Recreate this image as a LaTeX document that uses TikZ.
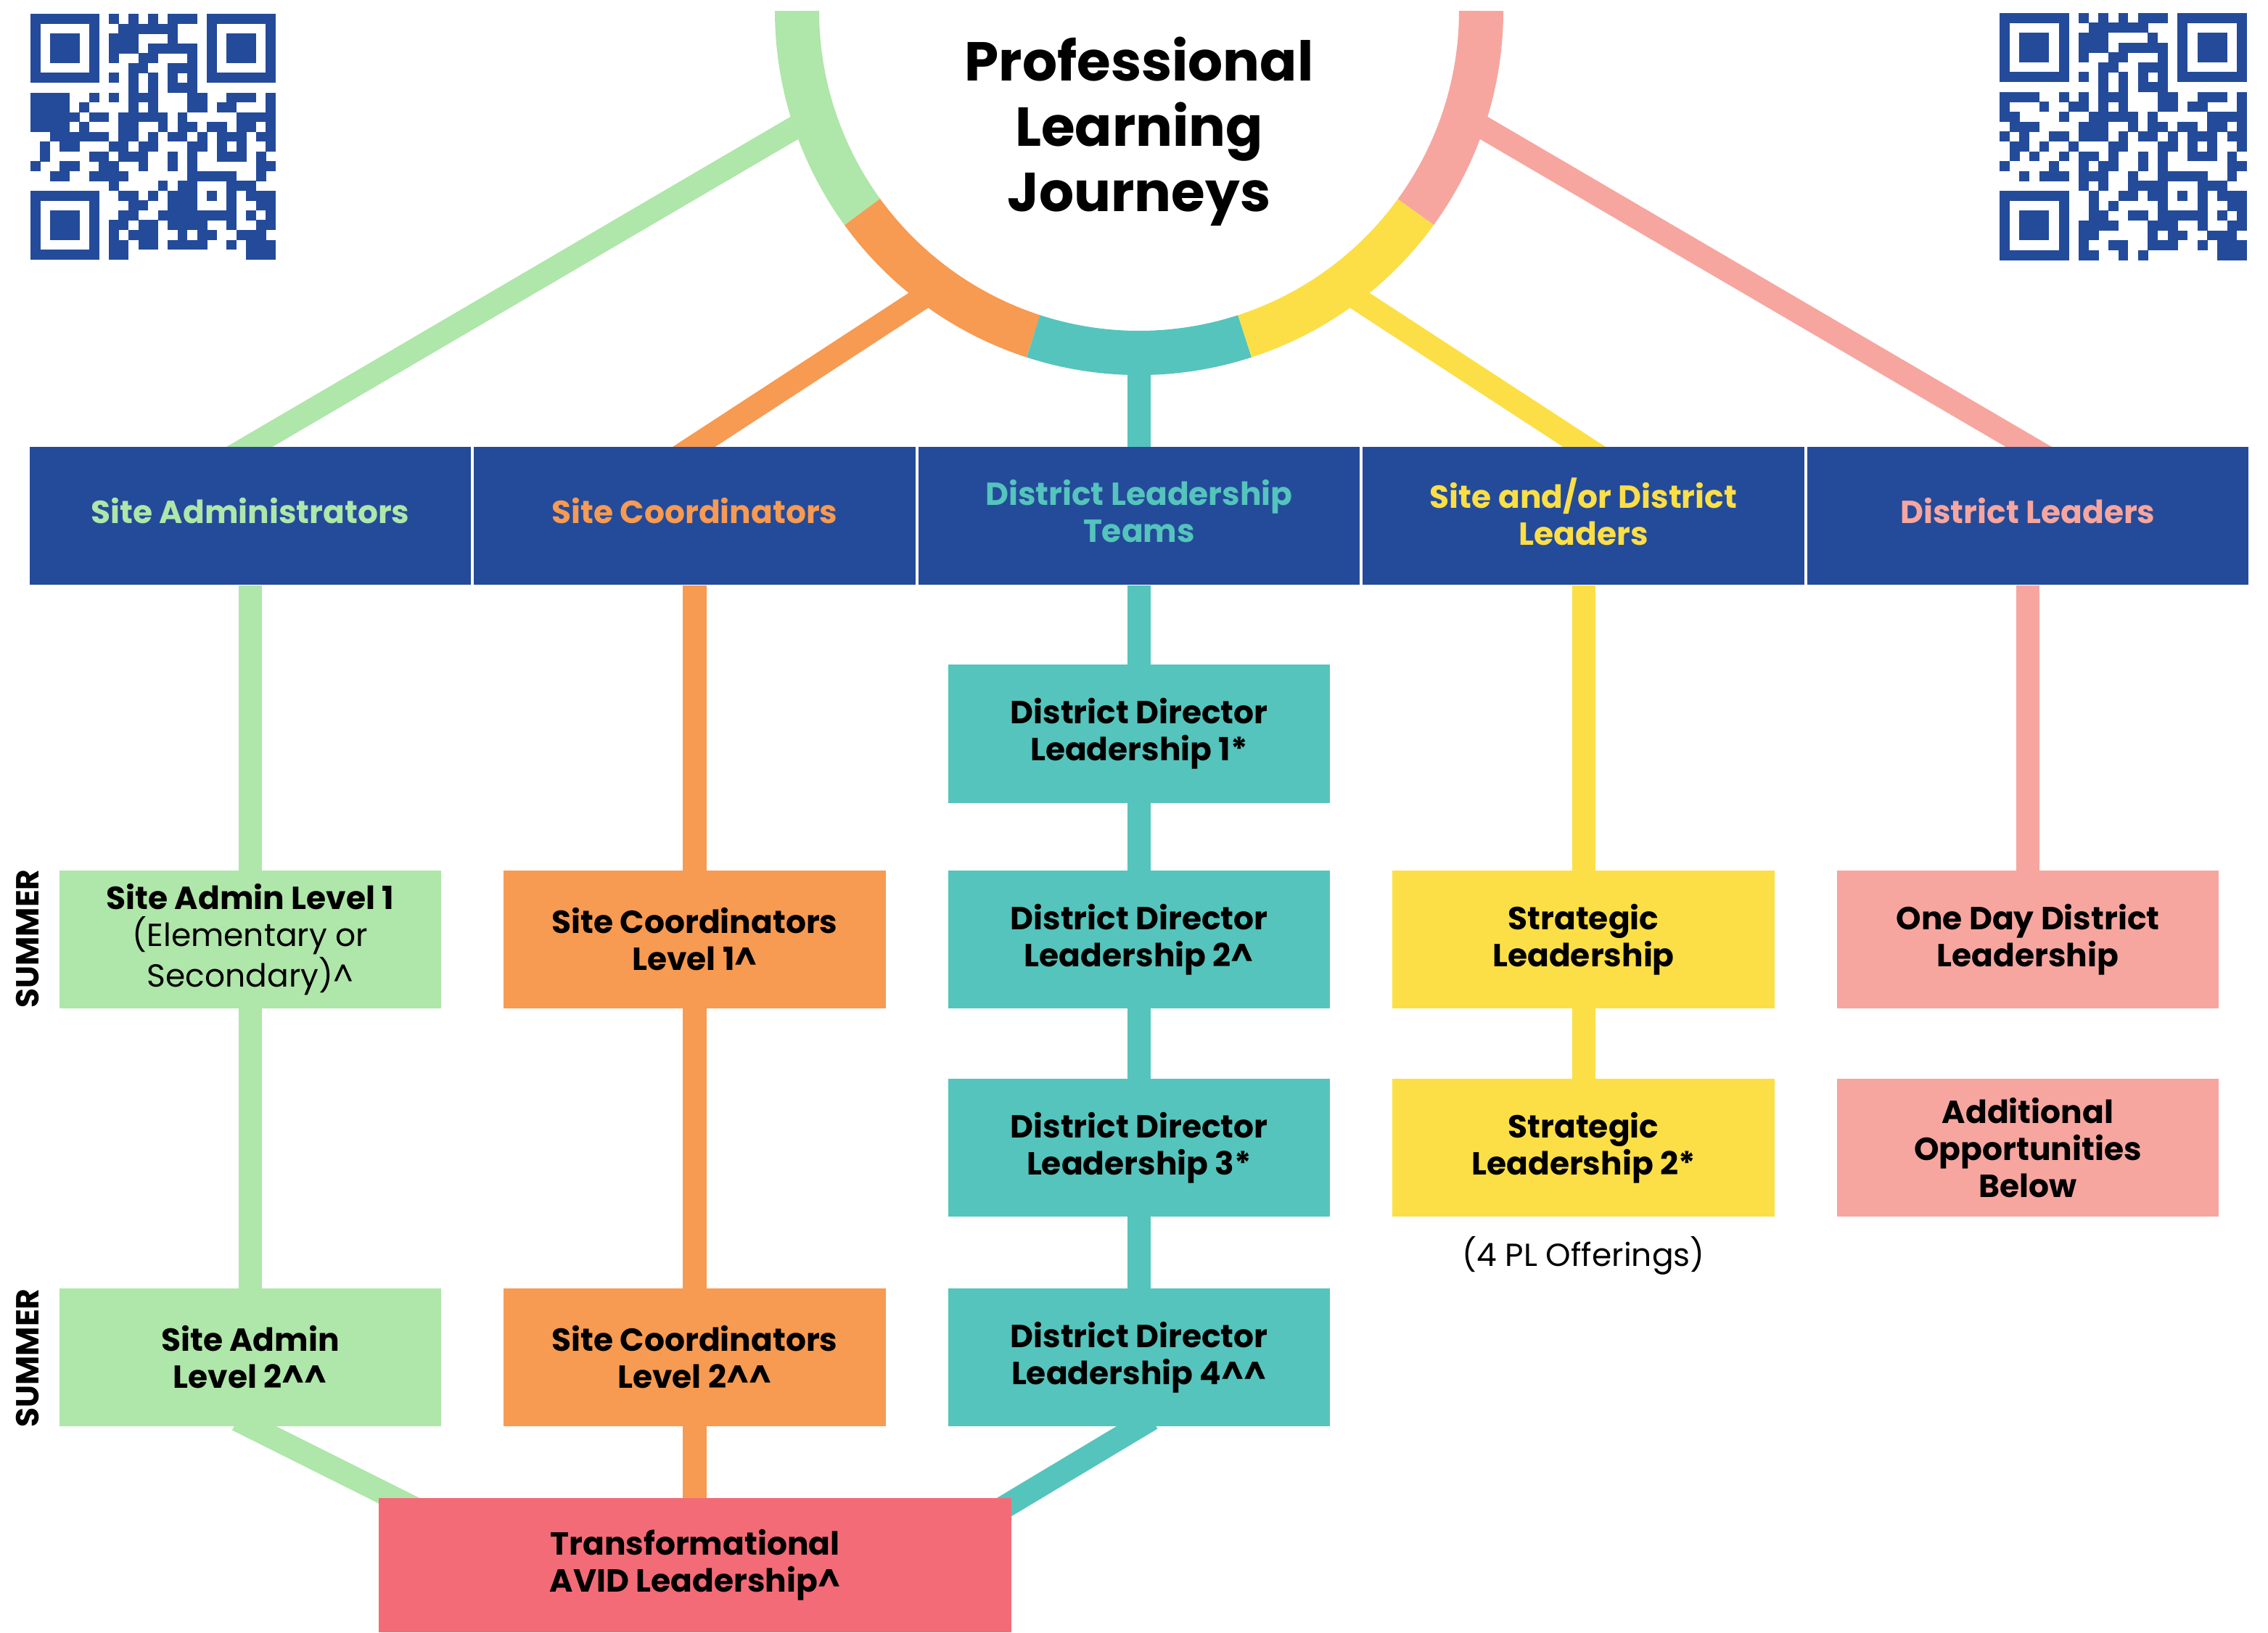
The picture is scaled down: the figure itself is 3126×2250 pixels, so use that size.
\documentclass[tikz,border=0pt]{standalone}
\usepackage{fontspec}
\setmainfont{Poppins}
\usetikzlibrary{calc}
\definecolor{navy}{HTML}{244B9A}
\definecolor{cgreen}{HTML}{AFE6A9}
\definecolor{corange}{HTML}{F79A52}
\definecolor{cteal}{HTML}{55C4BC}
\definecolor{cyellow}{HTML}{FCDF46}
\definecolor{cpink}{HTML}{F6A69F}
\definecolor{cred}{HTML}{F26B77}
\newcount\qrc
\def\qrparse#1{\ifx#1\relax\else\if1#1\fill (\the\qrc,\r) rectangle ++(1.02,1.02);\fi\global\advance\qrc by 1\relax\expandafter\qrparse\fi}
\newcommand\drawqr[1]{\foreach \s [count=\r from 0] in {#1} {\global\qrc=0 \expandafter\qrparse\s\relax}}
\tikzset{
  hdr/.style={fill=navy, minimum width=6.08cm, minimum height=1.9cm, inner sep=0pt},
  hdrtext/.style={align=center, inner sep=0pt, font=\fontsize{12.5}{14.5}\selectfont\bfseries},
  box/.style={minimum width=5.26cm, minimum height=1.9cm, inner sep=0pt, align=center,
    font=\fontsize{12.5}{14.5}\selectfont\bfseries, text=black},
  conn/.style={line width=0.32cm},
  ring/.style={line width=0.61cm},
  side/.style={rotate=90, font=\fontsize{12.5}{14.5}\selectfont\bfseries},
}
\begin{document}
\begin{tikzpicture}[x=0.01cm, y=-0.01cm]
\useasboundingbox (0,0) rectangle (3126,2250);
% ring centre
\coordinate (rc) at (1570,15);
\coordinate (rg) at ($(rc)+(162:471.5)$);
\coordinate (ro) at ($(rc)+(126:471.5)$);
\coordinate (rt) at ($(rc)+(90:471.5)$);
\coordinate (ry) at ($(rc)+(54:471.5)$);
\coordinate (rp) at ($(rc)+(18:471.5)$);
% column box positions
\path
  (345,1295)    coordinate (psa1)
  (345,1871)    coordinate (psa2)
  (957.5,1295)  coordinate (psc1)
  (957.5,1871)  coordinate (psc2)
  (1570,1011.5) coordinate (pdd1)
  (1570,1295)   coordinate (pdd2)
  (1570,1582)   coordinate (pdd3)
  (1570,1871)   coordinate (pdd4)
  (2182.5,1295) coordinate (pst1)
  (2182.5,1582) coordinate (pst2)
  (2795,1295)   coordinate (pod)
  (2795,1582)   coordinate (pao);
% header box outlines (named, for connectors)
\path (345,711)    node[hdr, fill=none] (h1) {}
      (957.5,711)  node[hdr, fill=none] (h2) {}
      (1570,711)   node[hdr, fill=none] (h3) {}
      (2182.5,711) node[hdr, fill=none] (h4) {}
      (2795,711)   node[hdr, fill=none] (h5) {};
% branches from ring to headers
\draw[conn, cgreen,  shorten >=-0.3cm] (rg) -- (h1.north);
\draw[conn, corange, shorten >=-0.3cm] (ro) -- (h2.north);
\draw[conn, cteal,   shorten >=-0.3cm] (rt) -- (h3.north);
\draw[conn, cyellow, shorten >=-0.3cm] (ry) -- (h4.north);
\draw[conn, cpink,   shorten >=-0.3cm] (rp) -- (h5.north);
% ring segments
\draw[ring, cgreen]  ($(rc)+(180:471.5)$) arc (180:144:471.5);
\draw[ring, corange] ($(rc)+(144:471.5)$) arc (144:108:471.5);
\draw[ring, cteal]   ($(rc)+(108:471.5)$) arc (108:72:471.5);
\draw[ring, cyellow] ($(rc)+(72:471.5)$)  arc (72:36:471.5);
\draw[ring, cpink]   ($(rc)+(36:471.5)$)  arc (36:0:471.5);
% vertical connectors
\draw[conn, cgreen]  (h1) -- (psa2);
\draw[conn, corange] (h2) -- (psc2);
\draw[conn, cteal]   (h3) -- (pdd4);
\draw[conn, cyellow] (h4) -- (pst2);
\draw[conn, cpink]   (h5) -- (pod);
% header fills and labels on top
\foreach \h in {h1,h2,h3,h4,h5} {\node[hdr] at (\h) {};}
\node[hdrtext, text=cgreen]  (t1) at ($(h1)+(0,-7)$) {Site Administrators};
\node[hdrtext, text=corange] (t2) at ($(h2)+(0,-7)$) {Site Coordinators};
\node[hdrtext, text=cteal]   (t3) at ($(h3)+(0,-6)$) {District Leadership\\Teams};
\node[hdrtext, text=cyellow] (t4) at ($(h4)+(0,-6)$) {Site and/or District\\Leaders};
\node[hdrtext, text=cpink]   (t5) at ($(h5)+(0,-7)$) {District Leaders};
% transformational targets and diagonals
\coordinate (tgA) at (725,2156);
\coordinate (tgB) at (1253,2156);
\draw[conn, cgreen, shorten <=-0.2cm] ($(psa2)+(0,95)$) coordinate (sa2b) -- (tgA);
\draw[conn, cteal,  shorten <=-0.2cm] ($(pdd4)+(0,95)$) coordinate (dd4b) -- (tgB);
\draw[conn, corange] (psc2) -- (957.5,2157);
% boxes
\node[box, fill=cgreen]  (sa1) at (psa1) {Site Admin Level 1\\\mdseries(Elementary or\\\mdseries Secondary)\textasciicircum};
\node[box, fill=cgreen]  (sa2) at (psa2) {Site Admin\\Level 2\textasciicircum\textasciicircum};
\node[box, fill=corange] (sc1) at (psc1) {Site Coordinators\\Level 1\textasciicircum};
\node[box, fill=corange] (sc2) at (psc2) {Site Coordinators\\Level 2\textasciicircum\textasciicircum};
\node[box, fill=cteal]   (dd1) at (pdd1) {District Director\\Leadership 1*};
\node[box, fill=cteal]   (dd2) at (pdd2) {District Director\\Leadership 2\textasciicircum};
\node[box, fill=cteal]   (dd3) at (pdd3) {District Director\\Leadership 3*};
\node[box, fill=cteal]   (dd4) at (pdd4) {District Director\\Leadership 4\textasciicircum\textasciicircum};
\node[box, fill=cyellow] (st1) at (pst1) {Strategic\\Leadership};
\node[box, fill=cyellow] (st2) at (pst2) {Strategic\\Leadership 2*};
\node[box, fill=cpink]   (od)  at (pod)  {One Day District\\Leadership};
\node[box, fill=cpink]   (ao)  at (pao)  {Additional\\Opportunities\\Below};
\node[box, fill=cred, minimum width=8.72cm, minimum height=1.85cm] (tal) at (958,2157.5) {Transformational\\AVID Leadership\textasciicircum};
\node[font=\fontsize{12.5}{14.5}\selectfont] (note) at (2182.5,1731) {(4 PL Offerings)};
% summer labels
\node[side] (sum1) at (38,1294) {SUMMER};
\node[side] (sum2) at (38,1872) {SUMMER};
% title (base anchor = baseline of last line)
\node[font=\fontsize{21.5}{25.5}\selectfont\bfseries, align=center, anchor=base] (title) at (1570,291) {Professional\\Learning\\Journeys};
% QR codes
\begin{scope}[shift={(41.7,19.3)}, scale=13.53, fill=navy]
\drawqr{1111111010101011101111111,1000001001111110001000001,1011101011100010001011101,1011101011101111101011101,1011101010011000101011101,1000001000110011101000001,1111111010101010101111111,0000000000101011100000000,1111001010111000110011101,1111010000101000110110001,1111101101111101000001111,1111010001100101101101101,0011111101101011010111011,0101100011011000110101001,0100001101110010100111010,1001100110010010100000011,0011001111000000111110010,0000000010000101100011100,1111111001101011101010111,1000001000110011100010011,1011101001100111111110101,1011101011011011110010011,1011101010111001011001110,1000001011011011110010111,1111111011000000000000111}
\end{scope}
\begin{scope}[shift={(2756,17.7)}, scale=13.63, fill=navy]
\drawqr{1111111010101011101111111,1000001001111110001000001,1011101011100001001011101,1011101011101111101011101,1011101010011000101011101,1000001000110011101000001,1111111010101010101111111,0000000000101011100000000,1111001010111000110011101,1000100110101000110110001,1100001001111101000001111,0111000011100101101101101,1010011011101011010111011,0110100100011000110101001,0101001011010010100111010,1000010010110010100000011,0010111011100100111110010,0000000010100111100011100,1111111001001101101010111,1000001001010000100010011,1011101001100110111110101,1011101011110001110010011,1011101011000001011001110,1000001010011001110010111,1111111011001010000000111}
\end{scope}
\end{tikzpicture}
\end{document}
